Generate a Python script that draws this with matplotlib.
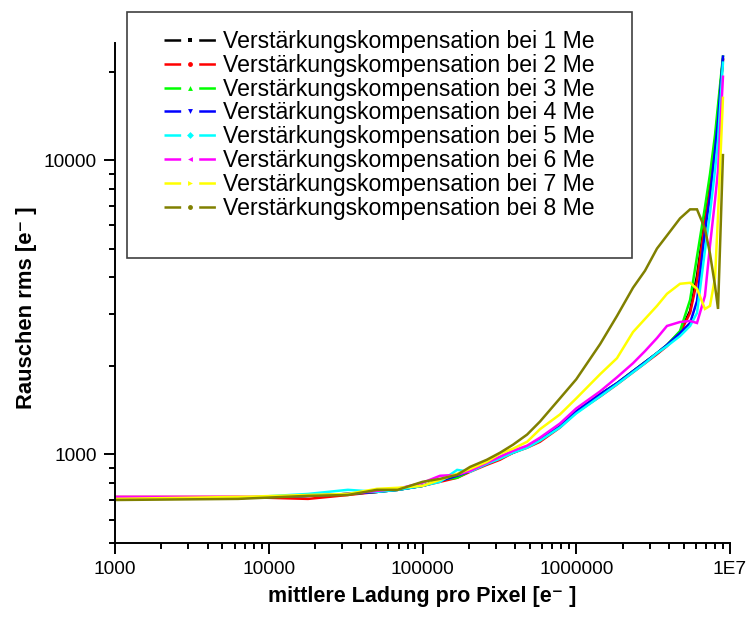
import numpy as np
import matplotlib
matplotlib.use("Agg")
import matplotlib.pyplot as plt
from matplotlib.lines import Line2D
from matplotlib.patches import Rectangle
from matplotlib.ticker import LogLocator, NullFormatter

plt.rcParams['font.family'] = ['Liberation Sans', 'DejaVu Sans']
plt.rcParams['lines.scale_dashes'] = False

# mittlere Ladung pro Pixel (gemeinsame Stuetzstellen)
x_ladung = [1000, 6300, 18000, 32700, 50600, 69000, 100000, 130000, 168000,
            204000, 262000, 319000, 388000, 479000, 581000, 783000, 1000000,
            1430000, 1840000, 2340000, 2800000, 3350000, 3890000, 4730000,
            5500000, 6100000, 6870000, 7410000, 7990000, 8360000, 9000000]

# Rauschen rms je Kompensationspunkt
rausch_1me = [706, 711, 723, 734, 746, 758, 782, 813, 846, 879, 929, 974, 1013,
              1062, 1121, 1243, 1399, 1600, 1744, 1917, 2057, 2208, 2352, 2605,
              3073, 4044, 6338, 8214, 11520, 14590, 21950]
rausch_2me = [717, 717, 706, 728, 746, 764, 782, 807, 833, 873, 922, 959, 1013,
              1054, 1104, 1234, 1388, 1574, 1730, 1902, 2041, 2191, 2333, 2584,
              3024, 3890, 6141, 7899, 11160, 14240, 21950]
rausch_3me = [706, 711, 723, 734, 746, 758, 782, 820, 833, 879, 929, 974, 1021,
              1062, 1121, 1243, 1399, 1600, 1744, 1917, 2057, 2208, 2352, 2626,
              3349, 4699, 6910, 8960, 12170, 15410, 22480]
rausch_4me = [706, 711, 723, 734, 746, 758, 782, 813, 846, 879, 929, 974, 1021,
              1062, 1121, 1243, 1399, 1600, 1744, 1917, 2057, 2208, 2352, 2584,
              2796, 3319, 5720, 7530, 10820, 13710, 22480]
rausch_5me = [706, 711, 734, 758, 746, 758, 782, 807, 886, 873, 929, 967, 1013,
              1054, 1114, 1234, 1378, 1574, 1730, 1902, 2041, 2208, 2333, 2524,
              2732, 3024, 4927, 6592, 9243, 11700, 21440]
rausch_6me = [717, 717, 723, 734, 752, 764, 801, 846, 852, 879, 936, 982, 1029,
              1071, 1140, 1273, 1433, 1638, 1828, 2041, 2244, 2485, 2732, 2818,
              2841, 2796, 3456, 5124, 7302, 9243, 19200]
rausch_7me = [706, 717, 728, 734, 764, 770, 782, 820, 859, 893, 944, 1006, 1046,
              1104, 1218, 1367, 1550, 1873, 2123, 2605, 2886, 3196, 3513, 3800,
              3830, 3654, 3121, 3196, 3980, 6488, 16280]
rausch_8me = [700, 706, 723, 728, 758, 758, 807, 826, 852, 907, 959, 1013, 1079,
              1168, 1293, 1550, 1800, 2371, 2954, 3684, 4209, 5005, 5543, 6338,
              6803, 6803, 5848, 4814, 3741, 3121, 10400]

kurven = [rausch_1me, rausch_2me, rausch_3me, rausch_4me,
          rausch_5me, rausch_6me, rausch_7me, rausch_8me]
farben = ['#000000', '#FF0000', '#00FF00', '#0000FF',
          '#00FFFF', '#FF00FF', '#FFFF00', '#808000']
marker = ['s', 'o', '^', 'v', 'D', '<', '>', 'o']
namen = ['Verstärkungskompensation bei %d Me' % i for i in range(1, 9)]

xticks = [1000, 10000, 100000, 1000000, 10000000]
xtick_labels = ['1000', '10000', '100000', '1000000', '1E7']
yticks = [1000, 10000]
ytick_labels = ['1000', '10000']

fig = plt.figure(figsize=(7.5, 6.17), dpi=100)
W, H = 750.0, 617.0
ax = fig.add_axes([115 / W, 1 - 543 / H, 615 / W, 500 / H])

for y, c in zip(kurven, farben):
    ax.plot(x_ladung, y, color=c, lw=1.8, solid_joinstyle='miter')

ax.set_xscale('log')
ax.set_yscale('log')
ax.set_xlim(1000, 1e7)
ax.set_ylim(500, 25000)

ax.set_xticks(xticks)
ax.set_xticklabels(xtick_labels)
ax.set_yticks(yticks)
ax.set_yticklabels(ytick_labels)
ax.xaxis.set_minor_locator(LogLocator(base=10, subs=np.arange(2, 10)))
ax.yaxis.set_minor_locator(LogLocator(base=10, subs=np.arange(2, 10)))
ax.xaxis.set_minor_formatter(NullFormatter())
ax.yaxis.set_minor_formatter(NullFormatter())

ax.tick_params(which='major', direction='out', length=8, width=1.4,
               labelsize=13.8, pad=5)
ax.tick_params(which='minor', direction='out', length=4.5, width=1.4)
for s in ['top', 'right']:
    ax.spines[s].set_visible(False)
for s in ['left', 'bottom']:
    ax.spines[s].set_linewidth(1.4)

ax.set_xlabel('mittlere Ladung pro Pixel [e\u207b ]', fontsize=15.5,
              fontweight='bold', labelpad=6)
ax.set_ylabel('Rauschen rms [e\u207b ]', fontsize=15.8, fontweight='bold')
ax.yaxis.set_label_coords(-0.127, 0.47)

# Legende mit Strich-Marker-Strich Symbolen
handles = [Line2D([], [], color=c, lw=1.8, linestyle=(0, (12, 13)),
                  marker=m, markersize=3.5, markeredgewidth=0)
           for c, m in zip(farben, marker)]
leg = fig.legend(handles, namen, loc='upper left',
                 bbox_to_anchor=(164 / W, 1 - 30 / H),
                 frameon=False, fontsize=16.6, numpoints=1,
                 handlelength=2.25, handletextpad=0.3,
                 borderpad=0, borderaxespad=0, labelspacing=0.035)
fig.patches.append(Rectangle((127 / W, 1 - 258 / H), 505 / W, 246 / H,
                             transform=fig.transFigure, fill=False,
                             edgecolor='#404040', lw=1.2))

fig.savefig('out.png', dpi=100)
